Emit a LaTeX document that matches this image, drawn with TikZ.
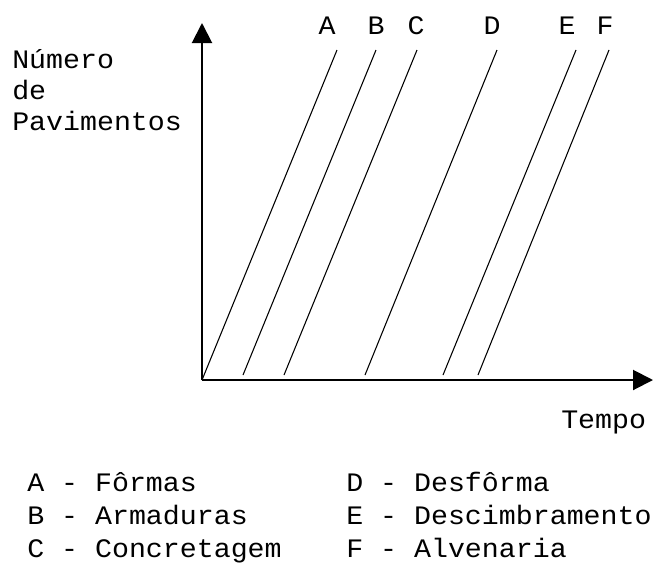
\documentclass[tikz,border=0pt]{standalone}
\usepackage{fontspec}
\setmonofont{Liberation Mono}[FakeStretch=1.06]
\usetikzlibrary{arrows.meta,positioning}

\begin{document}
\begin{tikzpicture}[x=0.75pt,y=-0.75pt]
   \tikzstyle{axis}=[line width=1.5pt,-{Triangle[length=15pt,width=15pt]}]
   \tikzstyle{act}=[line width=0.8pt]
   \tikzstyle{txt}=[font=\ttfamily\fontsize{20}{22.9}\selectfont,inner sep=0pt]
   \tikzstyle{lbl}=[txt,anchor=base]
   \tikzstyle{leg}=[txt,anchor=base west,align=left,font=\ttfamily\fontsize{20}{24.4}\selectfont]

   \useasboundingbox (0,0) rectangle (656,586);

   % axes
   \coordinate (o) at (202,380);
   \coordinate (ytop) at (202,23);
   \coordinate (xend) at (653,380);
   \draw[axis] (o) -- (ytop);
   \draw[axis] (o) -- (xend);

   % multi-line nodes sit on their last baseline
   \node (ylab) [txt,anchor=base west,align=left] at (12,130) {Número\\de\\Pavimentos};
   \node (xlab) [txt,anchor=base west] at (561,428) {Tempo};

   % one line per service
   \foreach \s/\xb/\yb/\xt/\xl in {A/202/380/337/327,B/243/375/376/376,C/284/375/417/416,
                                   D/365/375/497/492,E/443/375/576/567,F/478/375/609/605} {
      \coordinate (b\s) at (\xb,\yb);
      \coordinate (t\s) at (\xt,50);
      \node (l\s) [lbl] at (\xl,34) {\s};
      \draw[act] (b\s) -- (t\s);
   }

   % legend
   \node (leg1) [leg] at (27,557) {A - Fôrmas\\B - Armaduras\\C - Concretagem};
   \node (leg2) [leg] at (346,557) {D - Desfôrma\\E - Descimbramento\\F - Alvenaria};
\end{tikzpicture}
\end{document}
